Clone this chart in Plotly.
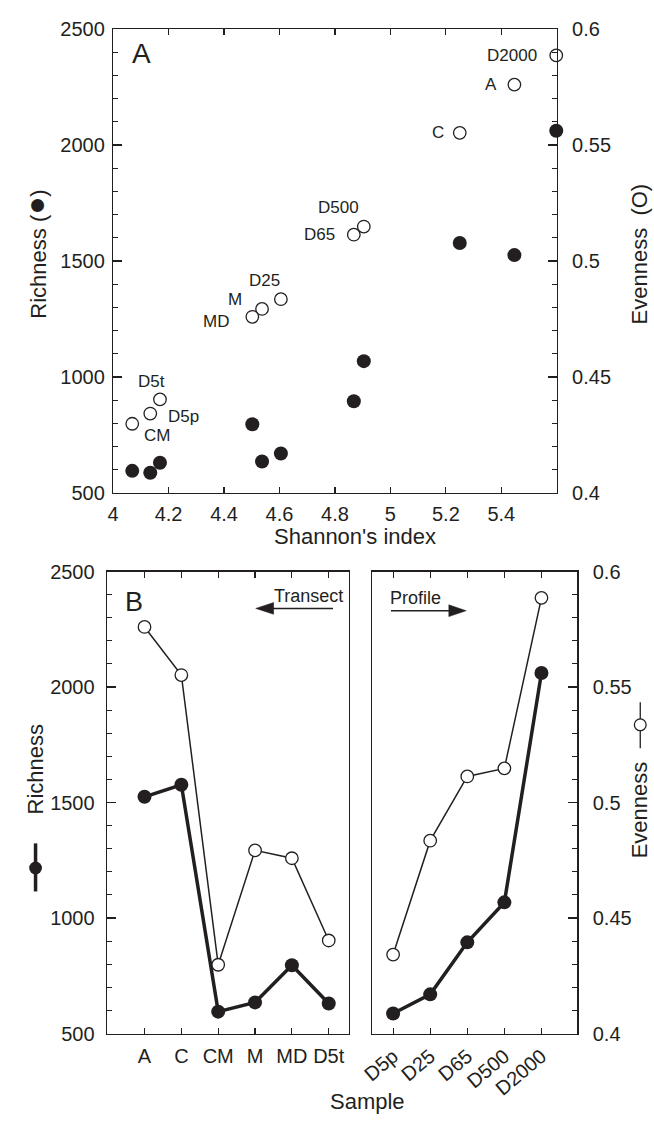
import plotly.graph_objects as go

W, H = 654, 1125

# ---------------- data ----------------
transect = ["A", "C", "CM", "M", "MD", "D5t"]
profile = ["D5p", "D25", "D65", "D500", "D2000"]
richness_transect = [1525, 1577, 595, 635, 796, 630]
richness_profile = [587, 670, 895, 1068, 2061]
evenness_transect = [0.5760, 0.5552, 0.4298, 0.4793, 0.4759, 0.4403]
evenness_profile = [0.4342, 0.4835, 0.5113, 0.5148, 0.5886]
shannon_transect = [5.447, 5.250, 4.069, 4.537, 4.502, 4.169]
shannon_profile = [4.134, 4.605, 4.868, 4.904, 5.598]

shannon_ticks = [4.0, 4.2, 4.4, 4.6, 4.8, 5.0, 5.2, 5.4, 5.6]
shannon_ticktext = ["4", "4.2", "4.4", "4.6", "4.8", "5", "5.2", "5.4", ""]

# label placement for panel A (anchor, xshift, yshift)
label_pos = {
    "D2000": ("right", -17, 0),
    "A": ("right", -15, 0),
    "C": ("right", -14, 0),
    "D500": ("center", -25, 19),
    "D65": ("right", -17, 0),
    "D25": ("center", -16, 19),
    "M": ("right", -18, 9),
    "MD": ("right", -21, -5),
    "D5t": ("center", -8, 18),
    "D5p": ("left", 16, -3),
    "CM": ("left", 10, -12),
}

ink = "#231f20"
FONT = "Liberation Sans, Arial, Helvetica, sans-serif"


def px(x):
    return x / W


def py(y):
    return 1 - y / H


samples = transect + profile
shannon_all = shannon_transect + shannon_profile
richness_all = richness_transect + richness_profile
evenness_all = evenness_transect + evenness_profile

fig = go.Figure()

filled = dict(size=14, color=ink, line=dict(width=0))
openm = dict(size=12.5, color="white", line=dict(width=1.3, color=ink))

# Panel A
fig.add_trace(go.Scatter(x=shannon_all, y=richness_all, mode="markers", marker=filled,
                         xaxis="x", yaxis="y", cliponaxis=False, showlegend=False))
fig.add_trace(go.Scatter(x=shannon_all, y=evenness_all, mode="markers", marker=openm,
                         xaxis="x", yaxis="y2", cliponaxis=False, showlegend=False))

# Panel B - transect
fig.add_trace(go.Scatter(x=transect, y=richness_transect, mode="lines+markers",
                         line=dict(width=3.5, color=ink), marker=filled,
                         xaxis="x2", yaxis="y3", cliponaxis=False, showlegend=False))
fig.add_trace(go.Scatter(x=transect, y=evenness_transect, mode="lines+markers",
                         line=dict(width=1.5, color=ink), marker=openm,
                         xaxis="x2", yaxis="y4", cliponaxis=False, showlegend=False))
# Panel B - profile
fig.add_trace(go.Scatter(x=profile, y=evenness_profile, mode="lines+markers",
                         line=dict(width=1.5, color=ink), marker=openm,
                         xaxis="x3", yaxis="y5", cliponaxis=False, showlegend=False))
fig.add_trace(go.Scatter(x=profile, y=richness_profile, mode="lines+markers",
                         line=dict(width=3.5, color=ink), marker=filled,
                         xaxis="x3", yaxis="y6", cliponaxis=False, showlegend=False))

tickfont = dict(family=FONT, size=20, color=ink)
axline = dict(showline=True, linewidth=1.3, linecolor=ink, showgrid=False, zeroline=False,
              tickcolor=ink, tickwidth=1.2, tickfont=tickfont)

rich_axis = dict(range=[500, 2500], tick0=500, dtick=500, ticks="inside", ticklen=9,
                 minor=dict(dtick=100, ticks="inside", ticklen=5, tickwidth=1, tickcolor=ink),
                 **axline)
even_axis = dict(range=[0.4, 0.6], tick0=0.4, dtick=0.05, ticks="inside", ticklen=9,
                 minor=dict(dtick=0.01, ticks="inside", ticklen=5, tickwidth=1, tickcolor=ink),
                 **axline)

domA = [py(491.5), py(18.3)]
domB = [py(1043), py(571.7)]

fig.update_layout(
    width=W, height=H, autosize=False,
    margin=dict(l=0, r=0, t=0, b=0),
    paper_bgcolor="white", plot_bgcolor="rgba(0,0,0,0)",
    font=dict(family=FONT, color=ink),
    xaxis=dict(domain=[px(103), px(555)], anchor="y", range=[4, 5.6],
               tickmode="array", tickvals=shannon_ticks, ticktext=shannon_ticktext,
               ticks="inside", ticklen=6, mirror="ticks", ticklabelstandoff=3, **axline),
    yaxis=dict(domain=domA, anchor="x", side="left", ticklabelstandoff=3, **rich_axis),
    yaxis2=dict(overlaying="y", anchor="x", side="right", ticklabelstandoff=10, **even_axis),
    xaxis2=dict(domain=[px(96.7), px(343.3)], anchor="y3", type="category",
                categoryorder="array", categoryarray=transect, range=[-1.02, 5.55],
                ticks="inside", ticklen=6, mirror="ticks", ticklabelstandoff=4, **axline),
    yaxis3=dict(domain=domB, anchor="x2", side="left", mirror=True, ticklabelstandoff=7, **rich_axis),
    yaxis4=dict(overlaying="y3", anchor="x2", range=[0.4, 0.6], visible=False),
    xaxis3=dict(domain=[px(366.7), px(576)], anchor="y5", type="category",
                categoryorder="array", categoryarray=profile, range=[-0.57, 4.97],
                ticks="inside", ticklen=6, mirror="ticks", tickangle=-40, ticklabelstandoff=2, **axline),
    yaxis5=dict(domain=domB, anchor="x3", side="right", mirror=True, ticklabelstandoff=10, **even_axis),
    yaxis6=dict(overlaying="y5", anchor="x3", range=[500, 2500], visible=False),
)

ann = []
# sample labels in panel A
for name, sx, ev in zip(samples, shannon_all, evenness_all):
    anchor, xs, ys = label_pos[name]
    ann.append(dict(x=sx, y=ev, xref="x", yref="y2", text=name, showarrow=False,
                    xanchor=anchor, yanchor="middle", xshift=xs, yshift=ys,
                    font=dict(family=FONT, size=17, color=ink)))


def ptext(text, x, y, size, angle=0, anchor="center"):
    ann.append(dict(x=px(x), y=py(y), xref="paper", yref="paper", text=text, showarrow=False,
                    xanchor=anchor, yanchor="middle", textangle=angle,
                    font=dict(family=FONT, size=size, color=ink)))


ptext("A", 132, 43, 28)
ptext("B", 124, 603, 27)
ptext("Shannon's index", 349, 536, 22)
ptext("Sample", 362, 1112, 22)
ptext("Richness (<span style='font-size:30px'>●</span>)", 24, 248, 22, angle=-90)
ptext("Evenness  (O)", 639, 248, 22, angle=-90)
ptext("Richness", 24, 774, 22, angle=-90)
ptext("Evenness", 639, 815, 22, angle=-90)
ptext("Transect", 302, 597, 18)
ptext("Profile", 411, 599, 18)
fig.update_layout(annotations=ann)

shapes = []


def pline(x0, y0, x1, y1, w):
    shapes.append(dict(type="line", xref="paper", yref="paper", x0=px(x0), y0=py(y0),
                       x1=px(x1), y1=py(y1), line=dict(color=ink, width=w)))


def tri(tipx, basex, y, half):
    path = "M {:.5f},{:.5f} L {:.5f},{:.5f} L {:.5f},{:.5f} Z".format(
        px(tipx), py(y), px(basex), py(y - half), px(basex), py(y + half))
    shapes.append(dict(type="path", xref="paper", yref="paper", path=path,
                       fillcolor=ink, line=dict(color=ink, width=0.5)))


def circ(cx, cy, d, fill, w):
    r = d / 2
    shapes.append(dict(type="circle", xref="paper", yref="paper",
                       x0=px(cx - r), x1=px(cx + r), y0=py(cy + r), y1=py(cy - r),
                       fillcolor=fill, line=dict(color=ink, width=w)))


# Transect arrow (pointing left)
pline(264, 609.3, 327, 609.3, 1.5)
tri(248.3, 266.5, 609.3, 6)
# Profile arrow (pointing right)
pline(386, 611.7, 447, 611.7, 1.5)
tri(462.7, 445, 611.7, 6)
# legend glyphs panel B
pline(24, 849, 24, 898, 3.5)
circ(24, 874, 13, ink, 0)
pline(640, 705, 640, 752, 1.3)
circ(640, 728, 12, "white", 1.3)
fig.update_layout(shapes=shapes)

fig.write_html(
    "out.html",
    config={"staticPlot": True, "displayModeBar": False},
    post_script="document.body.style.margin='0';document.body.style.padding='0';"
                "document.documentElement.style.overflow='hidden';"
                "document.body.style.overflow='hidden';",
)
